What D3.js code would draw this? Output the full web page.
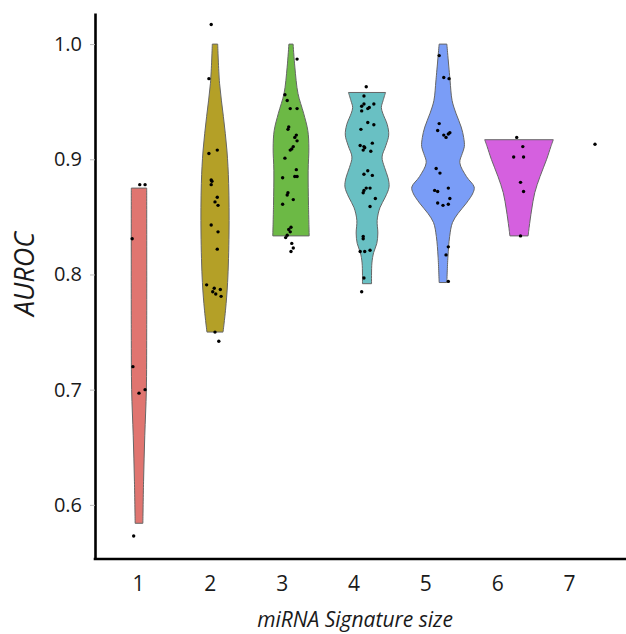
<!DOCTYPE html>
<html>
<head>
<meta charset="utf-8">
<script src="https://cdn.jsdelivr.net/npm/d3@7"></script>
<style>
  body { margin: 0; background: #fff; }
  text { font-family: "Open Sans", sans-serif; fill: #1a1a1a; }
</style>
</head>
<body>
<div id="chart"></div>
<script>
// chart size
const width = 626;
const height = 634;
const margin = {left: 95, right: 0, top: 13, bottom: 75};

// signature sizes (x categories)
const sizes = [1, 2, 3, 4, 5, 6, 7];
const yTicks = [0.6, 0.7, 0.8, 0.9, 1.0];
const colors = ["#e07570", "#b4a027", "#6cb945", "#69c0c3", "#7a9df7", "#d560df", "#888"];

// AUROC of every signature, per size
const auroc = [
  [0.878, 0.878, 0.831, 0.720, 0.697, 0.700, 0.573],
  [1.017, 0.970, 0.905, 0.908, 0.882, 0.881, 0.878, 0.867, 0.863, 0.860, 0.843, 0.837, 0.822,
   0.791, 0.788, 0.785, 0.783, 0.787, 0.781, 0.750, 0.742],
  [0.987, 0.956, 0.951, 0.944, 0.944, 0.928, 0.926, 0.921, 0.919, 0.916, 0.911, 0.908, 0.909,
   0.901, 0.891, 0.885, 0.885, 0.884, 0.871, 0.869, 0.865, 0.861, 0.841, 0.839, 0.837, 0.834,
   0.832, 0.827, 0.823, 0.820],
  [0.963, 0.955, 0.946, 0.948, 0.944, 0.945, 0.948, 0.942, 0.932, 0.930, 0.926, 0.914, 0.912,
   0.911, 0.908, 0.910, 0.907, 0.890, 0.887, 0.886, 0.875, 0.875, 0.873, 0.871, 0.866, 0.859,
   0.833, 0.831, 0.820, 0.820, 0.821, 0.797, 0.785],
  [0.990, 0.971, 0.970, 0.931, 0.925, 0.921, 0.919, 0.922, 0.923, 0.892, 0.888, 0.873, 0.872,
   0.875, 0.866, 0.861, 0.860, 0.862, 0.824, 0.817, 0.794],
  [0.919, 0.911, 0.902, 0.902, 0.880, 0.872, 0.8335],
  [0.913]
];

// horizontal jitter of each point, in category units
const jitter = [
  [0.01, 0.08, -0.09, -0.08, 0.0, 0.08, -0.07],
  [-0.05, -0.08, -0.08, 0.03, -0.05, -0.04, -0.05, 0.03, 0.0, 0.04, -0.05, 0.04, 0.03,
   -0.11, -0.01, -0.03, 0.01, 0.07, 0.08, 0.0, 0.05],
  [0.08, -0.08, -0.05, -0.01, 0.08, -0.03, -0.04, 0.07, 0.05, 0.08, 0.03, -0.01, 0.01,
   -0.08, 0.07, 0.05, 0.08, -0.11, -0.04, -0.05, 0.03, -0.11, 0.0, -0.03, -0.01, -0.05,
   -0.07, 0.01, 0.03, 0.0],
  [-0.01, -0.04, -0.07, -0.04, 0.01, 0.03, 0.09, -0.07, 0.01, 0.09, -0.08, 0.07, -0.09,
   -0.04, -0.05, -0.03, 0.05, 0.01, -0.04, 0.07, 0.04, -0.01, -0.04, -0.05, 0.11, 0.04,
   -0.05, -0.05, -0.09, -0.03, 0.04, -0.04, -0.07],
  [-0.05, 0.01, 0.08, -0.05, -0.07, 0.01, 0.04, 0.07, 0.09, -0.09, -0.04, -0.11, -0.07,
   0.07, 0.09, 0.07, 0.0, -0.07, 0.07, 0.04, 0.07],
  [-0.03, 0.05, -0.07, 0.06, 0.02, 0.06, 0.02],
  [0.0]
];

// violin outlines: [AUROC, relative density]
const density = [
  [[0.875, 0.22], [0.75, 0.22], [0.70, 0.21], [0.66, 0.165], [0.62, 0.13], [0.584, 0.11]],
  [[1.0, 0.077], [0.966, 0.13], [0.937, 0.24], [0.908, 0.34], [0.879, 0.39], [0.836, 0.40],
   [0.793, 0.36], [0.769, 0.30], [0.75, 0.23]],
  [[1.0, 0.06], [0.98, 0.11], [0.957, 0.2], [0.94, 0.36], [0.925, 0.48], [0.91, 0.51],
   [0.89, 0.49], [0.86, 0.5], [0.8335, 0.52]],
  [[0.958, 0.53], [0.951, 0.46], [0.945, 0.41], [0.94, 0.45], [0.93, 0.58], [0.921, 0.62],
   [0.912, 0.54], [0.902, 0.43], [0.893, 0.5], [0.884, 0.6], [0.876, 0.63], [0.867, 0.52],
   [0.858, 0.37], [0.847, 0.29], [0.836, 0.31], [0.827, 0.28], [0.819, 0.19], [0.81, 0.14],
   [0.792, 0.13]],
  [[1.0, 0.11], [0.969, 0.2], [0.951, 0.26], [0.94, 0.37], [0.928, 0.52], [0.919, 0.59],
   [0.911, 0.61], [0.905, 0.55], [0.897, 0.48], [0.885, 0.67], [0.876, 0.89], [0.871, 0.86],
   [0.862, 0.67], [0.853, 0.43], [0.845, 0.27], [0.833, 0.19], [0.815, 0.14], [0.793, 0.11]],
  [[0.917, 0.98], [0.911, 0.91], [0.9, 0.79], [0.885, 0.6], [0.871, 0.45], [0.856, 0.36],
   [0.841, 0.29], [0.8335, 0.26]],
  []
];

const svg = d3.select("#chart")
  .append("svg")
  .attr("width", width)
  .attr("height", height);

// scales
const x = d3.scaleLinear()
  .domain([1, 7])
  .range([139, 595]);

// tick labels sit a little off the violins in the original figure
const xLabel = d3.scalePoint()
  .domain(sizes)
  .range([138, 569]);

const y = d3.scaleLinear()
  .domain([0.553, 1.027])
  .range([height - margin.bottom, margin.top]);

const w = d3.scaleLinear()
  .domain([0, 1])
  .range([0, 35]);

// violins
sizes.forEach((s, i) => {
  if (density[i].length == 0) return;
  const area = d3.area()
    .y(d => y(d[0]))
    .x0(d => x(s) - w(d[1]))
    .x1(d => x(s) + w(d[1]))
    .curve(d3.curveCatmullRom.alpha(0.5));
  svg.append("path")
    .datum(density[i])
    .attr("d", area)
    .attr("fill", colors[i])
    .attr("stroke", "#666")
    .attr("stroke-width", 1);
});

// points
sizes.forEach((s, i) => {
  svg.selectAll(".pt" + s)
    .data(auroc[i])
    .enter()
    .append("circle")
      .attr("class", "pt" + s)
      .attr("cx", (d, j) => x(s + jitter[i][j]))
      .attr("cy", d => y(d))
      .attr("r", 1.7)
      .attr("fill", "#000");
});

// y axis
const yAxis = svg.append("g")
  .attr("transform", `translate(${margin.left},0)`)
  .call(d3.axisLeft(y).tickValues(yTicks).tickFormat(d3.format(".1f"))
          .tickSize(5).tickSizeOuter(0).tickPadding(8));
yAxis.select(".domain").attr("stroke", "#000").attr("stroke-width", 2.6);
yAxis.selectAll(".tick line").attr("stroke", "#bbb");
yAxis.selectAll(".tick text").attr("font-size", "20px").attr("fill", "#1a1a1a");

// x axis
const xAxis = svg.append("g")
  .attr("transform", `translate(0,${height - margin.bottom})`)
  .call(d3.axisBottom(xLabel).tickSize(0).tickPadding(17));
xAxis.select(".domain").remove();
xAxis.selectAll(".tick text").attr("font-size", "21px").attr("fill", "#1a1a1a");

svg.append("line")
  .attr("x1", margin.left - 1.3)
  .attr("x2", width)
  .attr("y1", height - margin.bottom)
  .attr("y2", height - margin.bottom)
  .attr("stroke", "#000")
  .attr("stroke-width", 2.6);

// axis titles
svg.append("text")
  .attr("x", 355)
  .attr("y", 627)
  .attr("text-anchor", "middle")
  .attr("font-size", "21px")
  .attr("font-style", "italic")
  .text("miRNA Signature size");

svg.append("text")
  .attr("transform", "translate(34,274) rotate(-90)")
  .attr("text-anchor", "middle")
  .attr("font-size", "27px")
  .attr("font-style", "italic")
  .text("AUROC");
</script>
</body>
</html>
